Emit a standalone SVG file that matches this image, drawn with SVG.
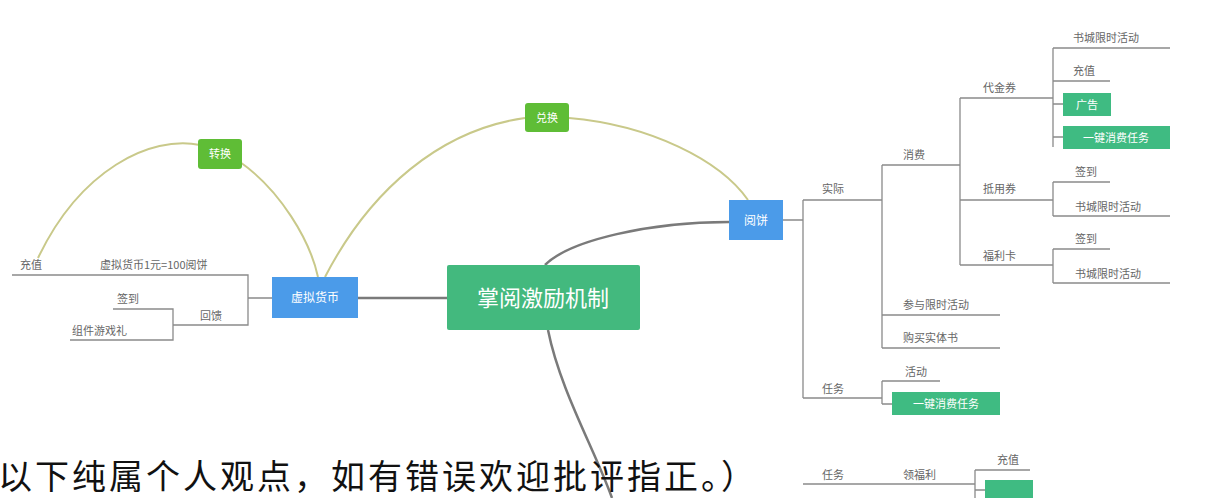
<svg xmlns="http://www.w3.org/2000/svg" width="1227" height="498" viewBox="0 0 1227 498">
<style>
.lbl{font-family:"Noto Sans CJK SC","Liberation Sans",sans-serif;font-size:11px;fill:#666}
.wt{font-family:"Noto Sans CJK SC","Liberation Sans",sans-serif;fill:#fff;text-anchor:middle}
.br{fill:none;stroke:#8a8a8a;stroke-width:1.3}
.main{fill:none;stroke:#7a7a7a;stroke-width:2.5}
.arc{fill:none;stroke:#c9c98a;stroke-width:2}
.gbox{fill:#3fbb82}
.big{font-family:"Noto Sans CJK SC","Liberation Sans",sans-serif;font-size:34px;fill:#111}
</style>
<rect width="1227" height="498" fill="#fff"/>
<g id="connectors">
<path class="main" d="M358,298 H448"/>
<path class="main" d="M545,265 C570,240 650,222 729,222"/>
<path class="main" d="M548,330 C560,390 595,450 612,498"/>
<path class="arc" d="M38,258 C80,170 150,135 200,145 M240,162 C280,190 310,240 318,277"/>
<path class="arc" d="M325,277 C370,190 440,130 525,118 M569,118 C650,125 720,160 748,200"/>
<path class="br" d="M272,298 H248 M12,275 H248 V325 H175 M248,298 V275 M113,309 H173 V340 H70 M173,325 H175"/>
<path class="br" d="M783,220 H803 M803,200 V398 M803,200 H880 M882,165 V348 M880,200 H882 M882,165 H960 M960,98 V265 M960,98 H1050 M1053,48 V147 M1053,48 H1170 M1053,81 H1110 M1053,104 H1063 M1053,137 H1063 M1050,98 H1053"/>
<path class="br" d="M960,200 H1053 M1053,182 V216 M1053,182 H1110 M1053,216 H1170"/>
<path class="br" d="M960,265 H1053 M1053,249 V283 M1053,249 H1110 M1053,283 H1170"/>
<path class="br" d="M882,315 H1000 M882,348 H1000"/>
<path class="br" d="M803,398 H882 M882,381 V404 M882,381 H940 M882,404 H892"/>
<path class="br" d="M803,484 H975 M975,470 V498 M975,470 H1030 M975,490 H985"/>
</g>
<g id="center"><rect x="447" y="265" width="193" height="65" rx="2" fill="#43b97e"/><text class="wt" x="543" y="306" font-size="22">掌阅激励机制</text></g>
<g id="left-blue"><rect x="272" y="277" width="86" height="41" fill="#4b9be9"/><text class="wt" x="315" y="302" font-size="12">虚拟货币</text></g>
<g id="right-blue"><rect x="729" y="200" width="54" height="40" fill="#4b9be9"/><text class="wt" x="756" y="225" font-size="12">阅饼</text></g>
<g id="green-left"><rect x="198" y="139" width="44" height="30" rx="3" fill="#5fbd36"/><text class="wt" x="220" y="158" font-size="11">转换</text></g>
<g id="green-top"><rect x="525" y="103" width="44" height="29" rx="3" fill="#5fbd36"/><text class="wt" x="547" y="122" font-size="11">兑换</text></g>
<g id="left-tree">
<text class="lbl" x="20" y="269">充值</text>
<text class="lbl" x="100" y="269">虚拟货币1元=100阅饼</text>
<text class="lbl" x="200" y="320">回馈</text>
<text class="lbl" x="117" y="303">签到</text>
<text class="lbl" x="72" y="335">组件游戏礼</text>
</g>
<g id="right-tree">
<text class="lbl" x="822" y="193">实际</text>
<text class="lbl" x="903" y="159">消费</text>
<text class="lbl" x="983" y="92">代金券</text>
<text class="lbl" x="1073" y="42">书城限时活动</text>
<text class="lbl" x="1073" y="75">充值</text>
<rect class="gbox" x="1063" y="93" width="48" height="23"/><text class="wt" x="1087" y="109" font-size="11">广告</text>
<rect class="gbox" x="1063" y="126" width="107" height="23"/><text class="wt" x="1116" y="142" font-size="11">一键消费任务</text>
<text class="lbl" x="983" y="193">抵用券</text>
<text class="lbl" x="1075" y="176">签到</text>
<text class="lbl" x="1075" y="211">书城限时活动</text>
<text class="lbl" x="983" y="260">福利卡</text>
<text class="lbl" x="1075" y="243">签到</text>
<text class="lbl" x="1075" y="278">书城限时活动</text>
<text class="lbl" x="903" y="309">参与限时活动</text>
<text class="lbl" x="903" y="342">购买实体书</text>
<text class="lbl" x="822" y="393">任务</text>
<text class="lbl" x="905" y="376">活动</text>
<rect class="gbox" x="892" y="392" width="108" height="23"/><text class="wt" x="946" y="408" font-size="11">一键消费任务</text>
<text class="lbl" x="822" y="479">任务</text>
<text class="lbl" x="903" y="479">领福利</text>
<text class="lbl" x="997" y="464">充值</text>
<rect class="gbox" x="985" y="480" width="48" height="23"/>
</g>
<text class="big" x="-2" y="489" textLength="757" lengthAdjust="spacing">以下纯属个人观点，如有错误欢迎批评指正。）</text>
</svg>
